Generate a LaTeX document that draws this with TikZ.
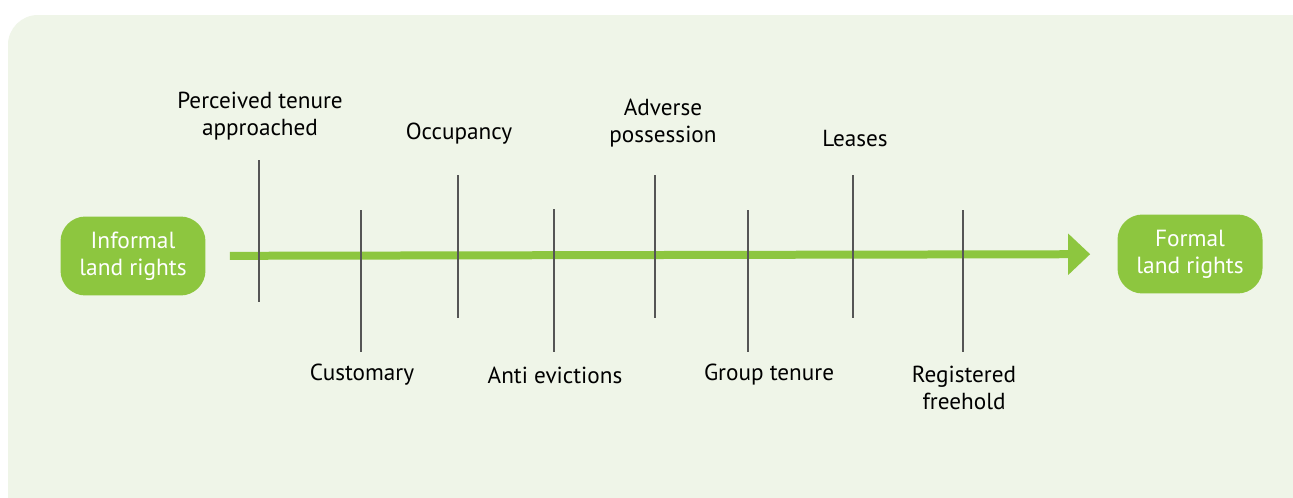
\documentclass[tikz,border=0pt]{standalone}
\usepackage{fontspec}
\setmainfont{PT Sans}
\usetikzlibrary{arrows.meta,shadows}

\definecolor{landgreen}{HTML}{8DC63F}
\definecolor{panelgreen}{HTML}{EFF5E8}
\definecolor{tickgray}{HTML}{555555}

\begin{document}
\begin{tikzpicture}[x=0.02cm, y=-0.02cm, font=\fontsize{13.2}{15.3}\selectfont,
    rightsbox/.style={rounded corners=0.5cm, fill=landgreen, text=white, align=center,
        minimum width=2.9cm, minimum height=1.58cm, font=\fontsize{13.3}{15.3}\selectfont},
    tenure/.style={align=center, text=black, inner sep=1pt},
    tenuretick/.style={tickgray, line width=0.04cm}]
            \useasboundingbox (0,0) rectangle (1293,497);
            \fill[white] (0,0) rectangle (1293,497);
            % panel behind the scale
            \fill[panelgreen, rounded corners=0.6cm,
                drop shadow={shadow xshift=0pt, shadow yshift=-1pt, opacity=0.12}]
                (8,15) rectangle (1330,530);
            % the two ends
            \node[rightsbox] (informal) at (133,256) {Informal\\land rights};
            \node[rightsbox] (formal)   at (1190,254) {Formal\\land rights};
            \draw[landgreen, line width=0.16cm, shorten <=0.48cm, shorten >=0.54cm,
                -{Triangle[length=0.44cm, width=0.8cm]}] (informal) -- (formal);
            % steps along the continuum
            \foreach \x/\top/\bot/\lx/\ly/\lbl [count=\i] in {
                259/160/302/260/116/{Perceived tenure\\approached},
                361/210/352/362/375/{Customary},
                458/175/318/459/134/{Occupancy},
                554/209/352/555/375/{Anti evictions},
                655/175/318/663/123/{Adverse\\possession},
                748/210/352/769/375/{Group tenure},
                853/175/318/855/139/{Leases},
                963/210/352/964/388/{Registered\\freehold}} {
                \coordinate (top\i) at (\x,\top);
                \coordinate (bot\i) at (\x,\bot);
                \draw[tenuretick] (top\i) -- (bot\i);
                \node[tenure] (step\i) at (\lx,\ly) {\lbl};
            }
        \end{tikzpicture}
\end{document}
